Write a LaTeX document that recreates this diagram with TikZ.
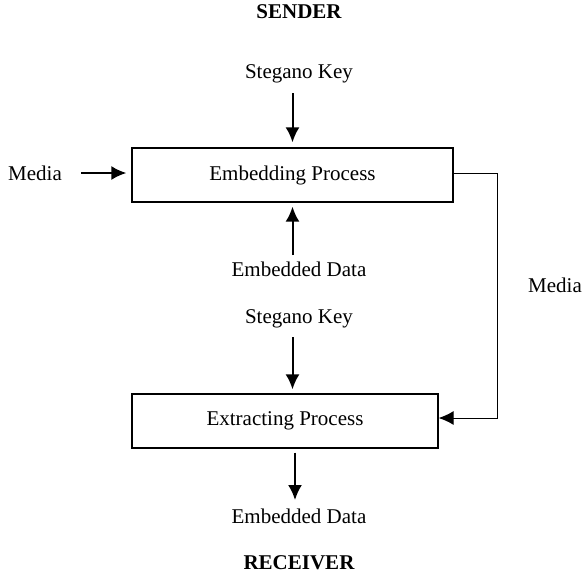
\documentclass[tikz,border=0pt]{standalone}
\usepackage{fontspec}
\setmainfont{Liberation Serif}
\usetikzlibrary{arrows.meta}
\begin{document}
\begin{tikzpicture}[x=1pt,y=-1pt]

      \tikzset{process/.style={draw, rectangle, line width=1.3pt, minimum height=54pt, inner sep=0pt},
               caption/.style={font=\fontsize{21}{24}\selectfont, inner sep=0pt},
               title/.style={font=\fontsize{21}{24}\selectfont\bfseries, inner sep=0pt},
               flow/.style={-{Latex[length=15pt,width=14pt]}, line width=2pt}}
      \useasboundingbox (0,0) rectangle (584,573);
%% Titles
      	\node[title] (sender) at (299,12) {SENDER};
      	\node[title] (receiver) at (299,563) {RECEIVER};
%% Blocks
      	\node[process, caption, minimum width=321pt] (embed) at (292.5,175) {Embedding Process};
      	\node[process, caption, minimum width=306pt] (extract) at (285,421) {Extracting Process};
%% Inputs and outputs
      	\node[caption] (key1) at (299,74) {Stegano Key};
      	\node[caption] (media1) at (35,173) {Media};
      	\node[caption] (data1) at (299,269) {Embedded Data};
      	\node[caption] (key2) at (299,319) {Stegano Key};
      	\node[caption] (mediaR) at (555,285) {Media};
      	\node[caption] (data2) at (299,516) {Embedded Data};
%Edges
		\path [flow, shorten <=19pt, shorten >=5pt] (key1 -| embed) edge (embed);
		\path [flow, shorten <=19pt, shorten >=5pt] (media1) edge (embed.west |- media1);
		\path [flow, shorten <=14pt, shorten >=4pt] (data1 -| embed) edge (embed.south);
		\path [flow, shorten <=18pt, shorten >=4pt] (key2 -| embed) edge (embed |- extract.north);
		\path [flow, shorten <=4pt, shorten >=16pt] ([xshift=-4pt]extract.south -| data2) edge ([xshift=-4pt]data2.center);
		\draw [-{Latex[length=15pt,width=14pt]}, line width=1pt] (embed.east |- media1) -- ++(44,0) |- ([yshift=3pt]extract.east);

	\end{tikzpicture}
\end{document}
